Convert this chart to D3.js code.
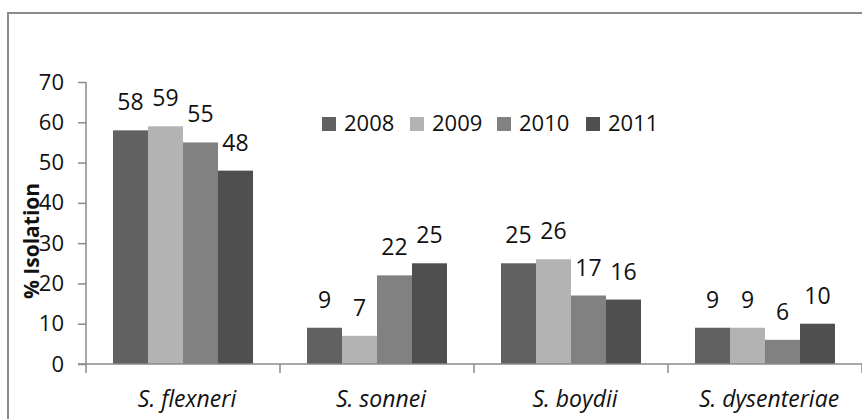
<!DOCTYPE html>
<html><head><meta charset="utf-8">
<script src="https://cdn.jsdelivr.net/npm/d3@7"></script>
<style>body{margin:0;background:#fff}svg{display:block;font-family:"Open Sans",sans-serif}</style>
</head><body><svg id="c" width="862" height="419"></svg>
<script>
const categories = ["S. flexneri", "S. sonnei", "S. boydii", "S. dysenteriae"];
const years = ["2008", "2009", "2010", "2011"];
const values2008 = [58, 9, 25, 9];
const values2009 = [59, 7, 26, 9];
const values2010 = [55, 22, 17, 6];
const values2011 = [48, 25, 16, 10];
const yTicks = [0, 10, 20, 30, 40, 50, 60, 70];
const colors = ["#616161", "#b3b3b3", "#818181", "#4f4f4f"];
const series = [values2008, values2009, values2010, values2011];

const svg = d3.select("#c");
const axisColor = "#8a8a8a";

// outer frame
svg.append("path").attr("d", "M8,420 V13 H870").attr("fill", "none").attr("stroke", "#8c8c8c").attr("stroke-width", 2);

const y = d3.scaleLinear().domain([0, 70]).range([364, 82]);
const x0 = d3.scaleBand().domain(categories).range([86, 862]).padding(0);
const x1 = d3.scaleBand().domain(years).range([27, x0.bandwidth() - 27]).padding(0);

// bars
years.forEach((yr, i) => {
  const g = svg.append("g");
  g.selectAll("rect").data(series[i]).join("rect")
    .attr("x", (d, j) => x0(categories[j]) + x1(yr))
    .attr("y", d => y(d))
    .attr("width", x1.bandwidth())
    .attr("height", d => y(0) - y(d))
    .attr("fill", colors[i]);
  g.selectAll("text").data(series[i]).join("text")
    .attr("x", (d, j) => x0(categories[j]) + x1(yr) + x1.bandwidth() / 2)
    .attr("y", d => y(d) - 20)
    .attr("text-anchor", "middle")
    .attr("font-size", 23)
    .attr("fill", "#111")
    .text(d => d);
});

// y axis
const yAxis = svg.append("g").attr("transform", "translate(86,0)")
  .call(d3.axisLeft(y).tickValues(yTicks).tickSize(8).tickPadding(14));
yAxis.select(".domain").attr("d", `M0,${y(70)}V373`).attr("stroke", axisColor).attr("stroke-width", 1.5);
yAxis.selectAll(".tick line").attr("stroke", axisColor).attr("stroke-width", 1.5);
yAxis.selectAll(".tick text").attr("font-size", 22).attr("fill", "#111").attr("font-family", "Open Sans");

// x axis
const xAxis = svg.append("g").attr("transform", `translate(0,${y(0)})`);
xAxis.append("line").attr("x1", 78).attr("x2", 862).attr("y1", 0).attr("y2", 0).attr("stroke", axisColor).attr("stroke-width", 1.5);
xAxis.selectAll("line.tk").data(categories).join("line").attr("class", "tk")
  .attr("x1", d => x0(d) + x0.bandwidth())
  .attr("x2", d => x0(d) + x0.bandwidth())
  .attr("y1", 0).attr("y2", 9).attr("stroke", axisColor).attr("stroke-width", 1.5);
xAxis.selectAll("text").data(categories).join("text")
  .attr("x", d => x0(d) + x0.bandwidth() / 2 + 4)
  .attr("y", 43)
  .attr("text-anchor", "middle")
  .attr("font-size", 23)
  .attr("font-style", "italic")
  .attr("fill", "#111")
  .text(d => d);

// y title
svg.append("text").attr("transform", "translate(39,241) rotate(-90)")
  .attr("text-anchor", "middle").attr("font-size", 21).attr("font-weight", "bold").attr("fill", "#111")
  .text("% Isolation");

// legend
const lx = d3.scaleOrdinal().domain(years).range([322, 410, 497, 586]);
const leg = svg.append("g");
leg.selectAll("rect").data(years).join("rect")
  .attr("x", d => lx(d)).attr("y", 117).attr("width", 14).attr("height", 14)
  .attr("fill", (d, i) => colors[i]);
leg.selectAll("text").data(years).join("text")
  .attr("x", d => lx(d) + 22).attr("y", 131)
  .attr("font-size", 22).attr("fill", "#111")
  .text(d => d);
</script></body></html>
